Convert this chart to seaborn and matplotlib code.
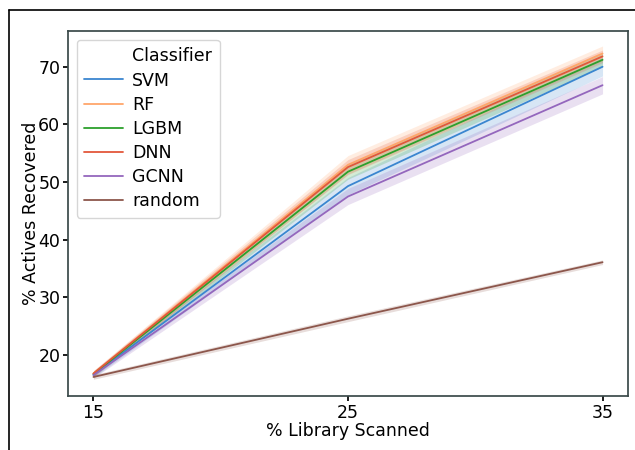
import numpy as np
import pandas as pd
import matplotlib
matplotlib.use("Agg")
import matplotlib.pyplot as plt
import seaborn as sns
from matplotlib.lines import Line2D

sns.set_theme(style="ticks")
plt.rcParams['font.family'] = ['DejaVu Sans']
plt.rcParams.update({'text.color': 'black', 'axes.labelcolor': 'black',
                     'xtick.color': 'black', 'ytick.color': 'black',
                     'axes.edgecolor': '#3a4a4a'})

scanned = [15, 25, 35]
classifiers = ['SVM', 'RF', 'LGBM', 'DNN', 'GCNN', 'random']
svm = [16.6, 49.3, 70.0]
rf = [16.8, 53.0, 72.3]
lgbm = [16.7, 51.8, 71.2]
dnn = [16.8, 52.6, 71.8]
gcnn = [16.5, 47.5, 66.8]
rand = [16.2, 26.3, 36.1]
# half width of the shaded interval
svm_ci = [0.5, 1.5, 1.6]
rf_ci = [0.5, 1.6, 1.3]
lgbm_ci = [0.5, 1.3, 1.2]
dnn_ci = [0.5, 1.3, 1.1]
gcnn_ci = [0.5, 1.4, 1.5]
rand_ci = [0.4, 0.5, 0.4]

means = [svm, rf, lgbm, dnn, gcnn, rand]
cis = [svm_ci, rf_ci, lgbm_ci, dnn_ci, gcnn_ci, rand_ci]

rows = []
for name, m, c in zip(classifiers, means, cis):
    for x, v, e in zip(scanned, m, c):
        rows.append({'scanned': x, 'recovered': v, 'ci': e, 'Classifier': name})
df = pd.DataFrame(rows)

colors = ['#3a86d0', '#ffa66b', '#2ca02c', '#e3573a', '#9467bd', '#8c564b']
palette = dict(zip(classifiers, colors))

fig, ax = plt.subplots(figsize=(6.35, 4.5), dpi=100)
fig.subplots_adjust(left=68/635, right=628/635, top=1-31/450, bottom=1-396/450)

sns.lineplot(data=df, x='scanned', y='recovered', hue='Classifier',
             palette=palette, ax=ax, linewidth=1.3)
for name in classifiers:
    d = df[df['Classifier'] == name]
    ax.fill_between(d['scanned'], d['recovered'] - d['ci'], d['recovered'] + d['ci'],
                    color=palette[name], alpha=0.2, linewidth=0)

ax.set_xticks(scanned)
ax.set_yticks([20, 30, 40, 50, 60, 70])
ax.set_ylim(12.9, 76.2)
ax.tick_params(labelsize=12.5, length=3.5, pad=2)
ax.set_xlabel('% Library Scanned', fontsize=12.5)
ax.set_ylabel('% Actives Recovered', fontsize=12.5)
ax.yaxis.set_label_coords(-0.05, 0.5)
ax.xaxis.set_label_coords(0.5, -0.07)

handles, labels = ax.get_legend_handles_labels()
blank = Line2D([], [], color='none')
leg = ax.legend([blank] + handles, ['Classifier'] + labels, fontsize=12.5,
                loc='upper left', labelspacing=0.35, borderpad=0.45,
                handletextpad=0.55, handlelength=2.2)

# outer frame of the screenshot
fig.add_artist(Line2D([9/635, 9/635], [0, 1-10/450], color='black', lw=1.2))
fig.add_artist(Line2D([9/635, 1], [1-10/450, 1-10/450], color='black', lw=1.2))

fig.savefig('out.png', dpi=100)
